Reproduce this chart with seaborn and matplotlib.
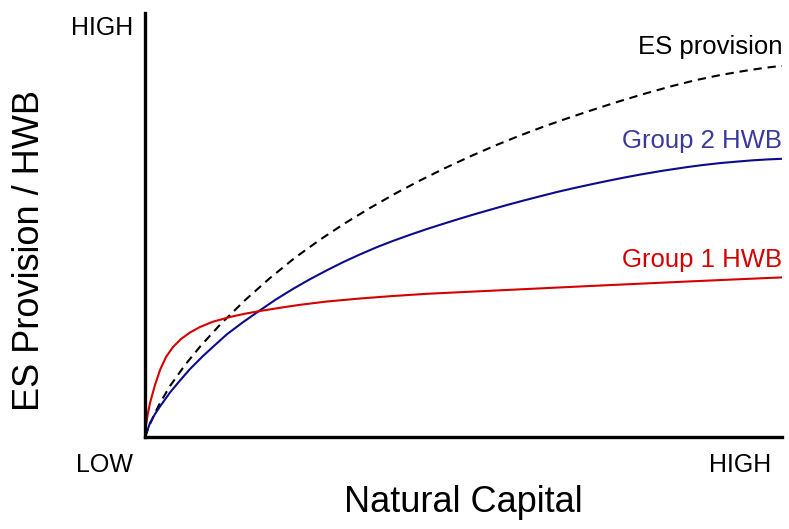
import numpy as np
import pandas as pd
import matplotlib
matplotlib.use("Agg")
import matplotlib.pyplot as plt
import seaborn as sns

# Values (arbitrary units: x 0-637 natural capital, y 0-424 level)
es_x = [0, 5, 10, 15, 25, 40, 55, 75, 100, 125, 150, 175, 200, 225, 250, 275, 300, 325, 350, 375, 400, 425, 450, 475, 500, 525, 550, 575, 600, 620, 637]
es_y = [0, 13, 24, 34, 51, 72, 90.3, 112.3, 136.8, 159, 179.3, 197.3, 213.8, 229, 243.3, 256.5, 268.9, 280.5, 291.4, 301.5, 310.9, 319.6, 327.9, 335.9, 343.4, 350.4, 356.7, 361.9, 366.2, 369.2, 371.2]

g2_x = [0, 5, 10, 15, 25, 35, 45, 58, 70, 82, 98, 115, 131, 148, 165, 182, 198, 215, 232, 248, 265, 282, 298, 315, 330, 345, 362, 378, 395, 412, 428, 445, 462, 478, 495, 518, 542, 558, 575, 592, 608, 623, 637]
g2_y = [0, 14, 23, 30.5, 44.5, 56.5, 68, 81, 92, 102.8, 114.8, 126.7, 137.6, 148.1, 157.8, 166.8, 174.8, 182.6, 189.9, 196.1, 202.2, 208, 213.1, 218.4, 222.9, 227.2, 232, 236.3, 240.7, 245, 248.7, 252.4, 256, 259.2, 262.4, 266.3, 269.9, 272, 273.9, 275.4, 276.7, 277.6, 278.2]

g1_x = [0, 1, 3, 5, 10, 15, 21, 28, 36, 45, 55, 68, 85, 100, 115, 135, 155, 182, 215, 248, 282, 315, 355, 395, 445, 495, 545, 595, 637]
g1_y = [0, 12, 24, 34, 52, 67, 80, 90, 98, 104.5, 110, 115.3, 120, 123.3, 126, 129.2, 132.2, 135.5, 138.5, 141, 143.2, 144.8, 146.7, 148.6, 151, 153.3, 155.6, 157.8, 159.6]

series_names = ["ES provision", "Group 2 HWB", "Group 1 HWB"]

df = pd.concat([
    pd.DataFrame({"x": es_x, "y": es_y, "series": series_names[0]}),
    pd.DataFrame({"x": g2_x, "y": g2_y, "series": series_names[1]}),
    pd.DataFrame({"x": g1_x, "y": g1_y, "series": series_names[2]}),
])

sns.set_style("white")
plt.rcParams['font.family'] = ['Liberation Sans', 'DejaVu Sans']
plt.rcParams['text.color'] = 'black'

W, H = 789, 529
fig = plt.figure(figsize=(W / 100, H / 100), dpi=100)
ax = fig.add_axes([145 / W, 1 - 437 / H, 637 / W, 424 / H])

palette = {"ES provision": "black", "Group 2 HWB": "#0b0b8c", "Group 1 HWB": "#d40000"}
sns.lineplot(data=df, x="x", y="y", hue="series", palette=palette, sort=False,
             estimator=None, linewidth=1.5, legend=False, ax=ax)
ax.lines[0].set_dashes((4.0, 2.8))
for ln in ax.lines:
    ln.set_solid_joinstyle("round")
    ln.set_dash_joinstyle("round")

ax.set_xlim(0, 637)
ax.set_ylim(0, 424)
ax.set_xticks([])
ax.set_yticks([])
ax.set_xlabel("")
ax.set_ylabel("")
for s in ["top", "right"]:
    ax.spines[s].set_visible(False)
for s in ["left", "bottom"]:
    ax.spines[s].set_linewidth(2.4)
    ax.spines[s].set_color("black")
    ax.spines[s].set_capstyle("projecting")

def ft(x, y, s, **kw):
    fig.text(x / W, 1 - y / H, s, **kw)

ft(133, 28, "HIGH", ha="right", va="center", fontsize=18, color="black")
ft(105, 465, "LOW", ha="center", va="center", fontsize=18, color="black")
ft(740, 465, "HIGH", ha="center", va="center", fontsize=18, color="black")
ft(463, 503, "Natural Capital", ha="center", va="center", fontsize=26, color="black")
ft(30, 250, "ES Provision / HWB", ha="center", va="center", fontsize=26, rotation=90, color="black")
ft(782, 47, "ES provision", ha="right", va="center", fontsize=18.5, color="black")
ft(782, 141, "Group 2 HWB", ha="right", va="center", fontsize=18.5, color="#3a3a9a")
ft(782, 260, "Group 1 HWB", ha="right", va="center", fontsize=18.5, color="#d40000")

fig.savefig("out.png", dpi=100, facecolor="white")
